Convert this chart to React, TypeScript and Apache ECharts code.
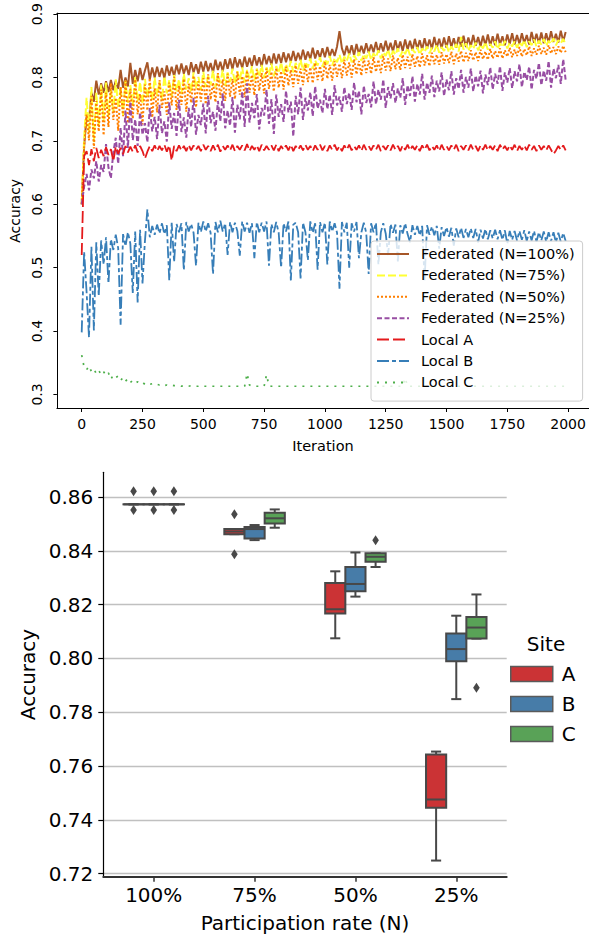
import React, { useEffect, useRef } from 'react';
import * as echarts from 'echarts';

const FONT = 'DejaVu Sans';

// ---------- Top chart: accuracy per iteration ----------
const ITER_STEP = 10;
const X_TICKS = [0, 250, 500, 750, 1000, 1250, 1500, 1750, 2000];
const Y_TICKS_TOP = [0.3, 0.4, 0.5, 0.6, 0.7, 0.8, 0.9];
const SERIES_NAMES = [
  'Federated (N=100%)',
  'Federated (N=75%)',
  'Federated (N=50%)',
  'Federated (N=25%)',
  'Local A',
  'Local B',
  'Local C',
];

const FED100 = [
  0.600, 0.692, 0.738, 0.731, 0.776, 0.762, 0.795, 0.773, 0.791, 0.776,
  0.794, 0.777, 0.796, 0.780, 0.795, 0.782, 0.812, 0.784, 0.800, 0.786,
  0.823, 0.790, 0.812, 0.794, 0.815, 0.796, 0.811, 0.824, 0.797, 0.816,
  0.800, 0.817, 0.801, 0.815, 0.799, 0.819, 0.803, 0.817, 0.802, 0.820,
  0.805, 0.822, 0.806, 0.819, 0.804, 0.824, 0.808, 0.821, 0.806, 0.825,
  0.809, 0.826, 0.810, 0.823, 0.808, 0.828, 0.812, 0.825, 0.810, 0.829,
  0.814, 0.830, 0.813, 0.832, 0.816, 0.829, 0.815, 0.833, 0.817, 0.831,
  0.818, 0.835, 0.819, 0.832, 0.817, 0.837, 0.821, 0.834, 0.820, 0.838,
  0.822, 0.837, 0.823, 0.840, 0.824, 0.838, 0.825, 0.842, 0.826, 0.839,
  0.827, 0.844, 0.828, 0.841, 0.829, 0.847, 0.830, 0.843, 0.831, 0.846,
  0.832, 0.848, 0.833, 0.845, 0.834, 0.849, 0.873, 0.846, 0.835, 0.850,
  0.836, 0.851, 0.835, 0.853, 0.837, 0.850, 0.838, 0.854, 0.839, 0.852,
  0.840, 0.856, 0.839, 0.854, 0.841, 0.858, 0.842, 0.855, 0.841, 0.859,
  0.843, 0.857, 0.842, 0.860, 0.844, 0.858, 0.843, 0.861, 0.845, 0.859,
  0.844, 0.862, 0.846, 0.860, 0.845, 0.864, 0.847, 0.861, 0.846, 0.863,
  0.847, 0.865, 0.848, 0.862, 0.847, 0.864, 0.849, 0.866, 0.848, 0.863,
  0.849, 0.867, 0.850, 0.864, 0.849, 0.866, 0.851, 0.868, 0.850, 0.865,
  0.851, 0.869, 0.852, 0.865, 0.851, 0.868, 0.853, 0.870, 0.852, 0.867,
  0.853, 0.870, 0.854, 0.867, 0.852, 0.872, 0.855, 0.869, 0.854, 0.871,
  0.854, 0.870, 0.855, 0.873, 0.856, 0.869, 0.855, 0.874, 0.857, 0.872,
];

const FED75 = [
  0.600, 0.705, 0.768, 0.712, 0.785, 0.698, 0.776, 0.722, 0.789, 0.731,
  0.792, 0.738, 0.781, 0.745, 0.797, 0.752, 0.786, 0.741, 0.795, 0.760,
  0.788, 0.755, 0.801, 0.762, 0.793, 0.758, 0.798, 0.768, 0.791, 0.763,
  0.800, 0.771, 0.794, 0.765, 0.802, 0.775, 0.796, 0.770, 0.804, 0.778,
  0.797, 0.774, 0.806, 0.781, 0.799, 0.777, 0.808, 0.783, 0.801, 0.780,
  0.809, 0.785, 0.803, 0.788, 0.811, 0.784, 0.806, 0.791, 0.812, 0.787,
  0.808, 0.793, 0.814, 0.790, 0.810, 0.796, 0.816, 0.792, 0.812, 0.798,
  0.818, 0.795, 0.814, 0.801, 0.820, 0.799, 0.816, 0.804, 0.822, 0.802,
  0.818, 0.807, 0.824, 0.805, 0.821, 0.810, 0.826, 0.808, 0.823, 0.813,
  0.828, 0.811, 0.825, 0.816, 0.830, 0.814, 0.827, 0.819, 0.832, 0.817,
  0.829, 0.821, 0.834, 0.819, 0.831, 0.824, 0.836, 0.822, 0.833, 0.826,
  0.838, 0.824, 0.835, 0.828, 0.840, 0.826, 0.837, 0.830, 0.841, 0.828,
  0.838, 0.832, 0.843, 0.830, 0.840, 0.834, 0.844, 0.831, 0.842, 0.836,
  0.846, 0.833, 0.843, 0.837, 0.847, 0.835, 0.845, 0.839, 0.848, 0.836,
  0.846, 0.840, 0.849, 0.838, 0.847, 0.841, 0.852, 0.839, 0.848, 0.842,
  0.851, 0.840, 0.849, 0.843, 0.853, 0.841, 0.864, 0.844, 0.854, 0.842,
  0.851, 0.845, 0.855, 0.843, 0.852, 0.846, 0.856, 0.844, 0.853, 0.847,
  0.857, 0.845, 0.854, 0.848, 0.858, 0.846, 0.855, 0.849, 0.857, 0.847,
  0.856, 0.850, 0.859, 0.848, 0.857, 0.851, 0.860, 0.849, 0.858, 0.852,
  0.861, 0.850, 0.858, 0.853, 0.862, 0.851, 0.859, 0.854, 0.861, 0.852,
];

const FED50 = [
  0.600, 0.690, 0.742, 0.701, 0.771, 0.688, 0.763, 0.715, 0.781, 0.709,
  0.776, 0.722, 0.791, 0.733, 0.768, 0.716, 0.785, 0.739, 0.795, 0.728,
  0.782, 0.735, 0.797, 0.742, 0.774, 0.726, 0.789, 0.748, 0.799, 0.737,
  0.783, 0.745, 0.796, 0.752, 0.778, 0.741, 0.792, 0.756, 0.801, 0.749,
  0.787, 0.757, 0.798, 0.746, 0.790, 0.760, 0.803, 0.753, 0.794, 0.762,
  0.799, 0.758, 0.805, 0.765, 0.792, 0.761, 0.807, 0.768, 0.797, 0.763,
  0.806, 0.770, 0.798, 0.766, 0.809, 0.773, 0.802, 0.769, 0.811, 0.776,
  0.804, 0.772, 0.812, 0.779, 0.807, 0.775, 0.814, 0.782, 0.809, 0.778,
  0.815, 0.784, 0.810, 0.781, 0.817, 0.787, 0.812, 0.785, 0.819, 0.790,
  0.814, 0.788, 0.821, 0.793, 0.816, 0.791, 0.823, 0.796, 0.818, 0.794,
  0.825, 0.798, 0.820, 0.795, 0.826, 0.801, 0.822, 0.799, 0.828, 0.803,
  0.824, 0.800, 0.829, 0.805, 0.826, 0.803, 0.831, 0.807, 0.827, 0.806,
  0.832, 0.809, 0.828, 0.807, 0.834, 0.811, 0.830, 0.810, 0.835, 0.813,
  0.831, 0.812, 0.836, 0.815, 0.833, 0.814, 0.837, 0.817, 0.834, 0.816,
  0.838, 0.819, 0.835, 0.818, 0.839, 0.821, 0.836, 0.820, 0.840, 0.822,
  0.837, 0.823, 0.841, 0.821, 0.838, 0.825, 0.842, 0.824, 0.839, 0.826,
  0.843, 0.827, 0.840, 0.826, 0.844, 0.829, 0.841, 0.828, 0.845, 0.830,
  0.842, 0.831, 0.846, 0.830, 0.843, 0.833, 0.847, 0.832, 0.844, 0.834,
  0.848, 0.833, 0.845, 0.835, 0.849, 0.834, 0.846, 0.836, 0.850, 0.837,
  0.847, 0.836, 0.851, 0.838, 0.848, 0.837, 0.849, 0.839, 0.850, 0.840,
];

const FED25 = [
  0.600, 0.628, 0.648, 0.622, 0.655, 0.641, 0.668, 0.636, 0.662, 0.651,
  0.695, 0.658, 0.641, 0.682, 0.705, 0.664, 0.721, 0.676, 0.748, 0.689,
  0.762, 0.701, 0.734, 0.692, 0.745, 0.710, 0.728, 0.698, 0.752, 0.715,
  0.738, 0.703, 0.757, 0.712, 0.731, 0.699, 0.761, 0.719, 0.744, 0.708,
  0.765, 0.714, 0.737, 0.705, 0.752, 0.722, 0.768, 0.710, 0.741, 0.725,
  0.759, 0.712, 0.771, 0.728, 0.746, 0.716, 0.763, 0.731, 0.775, 0.720,
  0.748, 0.724, 0.769, 0.713, 0.757, 0.734, 0.778, 0.722, 0.791, 0.729,
  0.760, 0.736, 0.774, 0.718, 0.752, 0.740, 0.781, 0.727, 0.766, 0.711,
  0.773, 0.738, 0.758, 0.730, 0.779, 0.745, 0.762, 0.707, 0.771, 0.742,
  0.784, 0.733, 0.768, 0.748, 0.777, 0.739, 0.786, 0.751, 0.765, 0.744,
  0.782, 0.750, 0.773, 0.741, 0.788, 0.756, 0.770, 0.746, 0.785, 0.758,
  0.776, 0.749, 0.792, 0.761, 0.779, 0.742, 0.787, 0.760, 0.774, 0.753,
  0.794, 0.758, 0.781, 0.765, 0.797, 0.752, 0.785, 0.767, 0.791, 0.760,
  0.783, 0.768, 0.799, 0.757, 0.788, 0.771, 0.802, 0.762, 0.790, 0.773,
  0.806, 0.765, 0.792, 0.776, 0.803, 0.769, 0.795, 0.778, 0.808, 0.771,
  0.797, 0.780, 0.810, 0.773, 0.799, 0.782, 0.812, 0.776, 0.801, 0.784,
  0.814, 0.778, 0.803, 0.786, 0.811, 0.775, 0.805, 0.788, 0.816, 0.781,
  0.806, 0.790, 0.818, 0.779, 0.808, 0.792, 0.815, 0.783, 0.810, 0.794,
  0.821, 0.785, 0.809, 0.796, 0.817, 0.781, 0.812, 0.798, 0.823, 0.788,
  0.811, 0.795, 0.826, 0.784, 0.814, 0.799, 0.820, 0.790, 0.829, 0.796,
];

const LOCAL_A = [
  0.520, 0.676, 0.684, 0.662, 0.687, 0.668, 0.689, 0.673, 0.686, 0.676,
  0.690, 0.678, 0.687, 0.668, 0.691, 0.680, 0.689, 0.679, 0.692, 0.682,
  0.691, 0.683, 0.693, 0.682, 0.692, 0.684, 0.672, 0.683, 0.692, 0.684,
  0.693, 0.684, 0.692, 0.685, 0.694, 0.683, 0.693, 0.669, 0.692, 0.684,
  0.693, 0.685, 0.692, 0.684, 0.694, 0.685, 0.693, 0.686, 0.692, 0.684,
  0.694, 0.686, 0.692, 0.684, 0.693, 0.685, 0.694, 0.683, 0.692, 0.686,
  0.693, 0.685, 0.694, 0.684, 0.692, 0.686, 0.693, 0.685, 0.695, 0.684,
  0.692, 0.686, 0.693, 0.684, 0.694, 0.685, 0.692, 0.686, 0.693, 0.685,
  0.694, 0.684, 0.692, 0.686, 0.693, 0.685, 0.694, 0.684, 0.692, 0.686,
  0.693, 0.685, 0.694, 0.686, 0.692, 0.684, 0.693, 0.686, 0.694, 0.685,
  0.692, 0.684, 0.693, 0.686, 0.694, 0.685, 0.692, 0.684, 0.693, 0.686,
  0.694, 0.685, 0.692, 0.686, 0.693, 0.684, 0.694, 0.686, 0.692, 0.685,
  0.693, 0.686, 0.694, 0.684, 0.692, 0.686, 0.693, 0.685, 0.694, 0.686,
  0.692, 0.684, 0.693, 0.686, 0.694, 0.685, 0.692, 0.686, 0.693, 0.684,
  0.693, 0.686, 0.694, 0.685, 0.692, 0.686, 0.693, 0.684, 0.694, 0.686,
  0.692, 0.685, 0.693, 0.686, 0.694, 0.684, 0.692, 0.686, 0.693, 0.685,
  0.694, 0.686, 0.692, 0.684, 0.693, 0.686, 0.694, 0.685, 0.692, 0.686,
  0.693, 0.684, 0.694, 0.686, 0.692, 0.685, 0.693, 0.686, 0.694, 0.684,
  0.692, 0.686, 0.693, 0.685, 0.694, 0.686, 0.692, 0.684, 0.693, 0.686,
  0.692, 0.685, 0.693, 0.686, 0.679, 0.685, 0.692, 0.686, 0.693, 0.685,
];

const LOCAL_B = [
  0.398, 0.525, 0.462, 0.390, 0.533, 0.401, 0.540, 0.455, 0.543, 0.505,
  0.548, 0.475, 0.545, 0.528, 0.552, 0.531, 0.410, 0.553, 0.534, 0.556,
  0.538, 0.460, 0.557, 0.445, 0.560, 0.475, 0.542, 0.592, 0.548, 0.566,
  0.552, 0.568, 0.554, 0.570, 0.553, 0.567, 0.480, 0.571, 0.509, 0.569,
  0.556, 0.570, 0.496, 0.572, 0.557, 0.569, 0.555, 0.503, 0.571, 0.556,
  0.573, 0.557, 0.570, 0.555, 0.490, 0.572, 0.556, 0.574, 0.557, 0.570,
  0.520, 0.572, 0.556, 0.571, 0.558, 0.519, 0.573, 0.557, 0.571, 0.555,
  0.570, 0.515, 0.572, 0.556, 0.571, 0.557, 0.573, 0.503, 0.569, 0.556,
  0.572, 0.555, 0.500, 0.570, 0.557, 0.573, 0.480, 0.568, 0.571, 0.556,
  0.483, 0.571, 0.556, 0.512, 0.573, 0.555, 0.570, 0.497, 0.572, 0.556,
  0.571, 0.505, 0.573, 0.557, 0.570, 0.555, 0.467, 0.572, 0.556, 0.571,
  0.500, 0.570, 0.557, 0.572, 0.515, 0.556, 0.571, 0.555, 0.490, 0.570,
  0.556, 0.571, 0.505, 0.556, 0.570, 0.554, 0.520, 0.569, 0.555, 0.568,
  0.510, 0.567, 0.554, 0.570, 0.553, 0.540, 0.567, 0.552, 0.566, 0.551,
  0.566, 0.480, 0.567, 0.552, 0.565, 0.551, 0.566, 0.530, 0.564, 0.550,
  0.564, 0.549, 0.563, 0.535, 0.562, 0.548, 0.563, 0.547, 0.561, 0.548,
  0.562, 0.547, 0.561, 0.540, 0.560, 0.546, 0.561, 0.545, 0.559, 0.546,
  0.560, 0.545, 0.559, 0.544, 0.559, 0.538, 0.558, 0.544, 0.558, 0.543,
  0.558, 0.544, 0.559, 0.542, 0.557, 0.543, 0.558, 0.541, 0.556, 0.543,
  0.557, 0.541, 0.556, 0.542, 0.556, 0.540, 0.555, 0.541, 0.555, 0.542,
];

const LOCAL_C = [
  0.362, 0.343, 0.339, 0.345, 0.336, 0.340, 0.333, 0.338, 0.331, 0.336,
  0.330, 0.334, 0.324, 0.331, 0.327, 0.329, 0.322, 0.327, 0.321, 0.325,
  0.319, 0.322, 0.318, 0.320, 0.317, 0.319, 0.316, 0.318, 0.316, 0.317,
  0.315, 0.316, 0.315, 0.316, 0.314, 0.315, 0.314, 0.315, 0.314, 0.314,
  0.314, 0.313, 0.314, 0.313, 0.313, 0.314, 0.313, 0.313, 0.313, 0.314,
  0.313, 0.313, 0.313, 0.313, 0.313, 0.313, 0.313, 0.313, 0.313, 0.313,
  0.313, 0.313, 0.313, 0.313, 0.313, 0.313, 0.313, 0.313, 0.333, 0.315,
  0.313, 0.313, 0.313, 0.313, 0.313, 0.313, 0.331, 0.314, 0.313, 0.313,
  0.313, 0.313, 0.313, 0.313, 0.313, 0.313, 0.313, 0.313, 0.313, 0.313,
  0.313, 0.313, 0.313, 0.313, 0.313, 0.313, 0.313, 0.313, 0.313, 0.313,
  0.313, 0.313, 0.313, 0.313, 0.313, 0.313, 0.313, 0.313, 0.313, 0.313,
  0.313, 0.313, 0.313, 0.313, 0.313, 0.313, 0.313, 0.313, 0.313, 0.313,
  0.313, 0.313, 0.313, 0.313, 0.313, 0.313, 0.313, 0.313, 0.313, 0.313,
  0.313, 0.313, 0.313, 0.326, 0.313, 0.313, 0.313, 0.313, 0.313, 0.313,
  0.313, 0.313, 0.313, 0.313, 0.313, 0.313, 0.313, 0.313, 0.313, 0.313,
  0.313, 0.313, 0.313, 0.313, 0.313, 0.313, 0.313, 0.313, 0.313, 0.313,
  0.313, 0.313, 0.313, 0.313, 0.313, 0.313, 0.313, 0.313, 0.313, 0.313,
  0.313, 0.313, 0.313, 0.313, 0.313, 0.313, 0.313, 0.313, 0.313, 0.313,
  0.313, 0.313, 0.313, 0.313, 0.313, 0.313, 0.313, 0.313, 0.313, 0.313,
  0.313, 0.313, 0.313, 0.313, 0.313, 0.313, 0.313, 0.313, 0.313, 0.313,
];

// ---------- Bottom chart: final accuracy boxplots ----------
const CATEGORIES = ['100%', '75%', '50%', '25%'];
const SITES = ['A', 'B', 'C'];
// [min whisker, Q1, median, Q3, max whisker] per participation rate
const BOX_A = [
  [0.8573, 0.8573, 0.8573, 0.8573, 0.8573],
  [0.8462, 0.8462, 0.8472, 0.8481, 0.8481],
  [0.8075, 0.8167, 0.8183, 0.8281, 0.8324],
  [0.7249, 0.7445, 0.7476, 0.7643, 0.7654],
];
const BOX_B = [
  [0.8573, 0.8573, 0.8573, 0.8573, 0.8573],
  [0.8440, 0.8446, 0.8481, 0.8489, 0.8496],
  [0.8230, 0.8250, 0.8277, 0.8340, 0.8394],
  [0.7849, 0.7990, 0.8035, 0.8093, 0.8159],
];
const BOX_C = [
  [0.8573, 0.8573, 0.8573, 0.8573, 0.8573],
  [0.8486, 0.8502, 0.8521, 0.8542, 0.8554],
  [0.8340, 0.8360, 0.8378, 0.8391, 0.8391],
  [0.8074, 0.8074, 0.8115, 0.8154, 0.8238],
];
// [category index, site index, value]
const OUTLIERS = [
  [0, 0, 0.8622], [0, 0, 0.8552],
  [0, 1, 0.8622], [0, 1, 0.8552],
  [0, 2, 0.8622], [0, 2, 0.8552],
  [1, 0, 0.8536], [1, 0, 0.8387],
  [2, 2, 0.8439],
  [3, 2, 0.7891],
];
const Y_TICKS_BOTTOM = [0.72, 0.74, 0.76, 0.78, 0.8, 0.82, 0.84, 0.86];

const LINE_COLORS = ['#a65628', '#ffff33', '#ff7f00', '#984ea3', '#e41a1c', '#377eb8', '#4daf4a'];
const LINE_TYPES: any[] = ['solid', [8, 3], [2, 2], [5, 2.5], [12, 4], [12, 3, 4, 3], [2, 6]];
const LINE_WIDTHS = [2, 2, 2, 2, 1.8, 1.8, 1.7];
const SITE_COLORS = ['#CB3335', '#477CA8', '#59A257'];
const EDGE = '#484848';

export default function App() {
  const ref = useRef<HTMLDivElement>(null);

  useEffect(() => {
    if (!ref.current) return;
    const chart = echarts.init(ref.current, null, { renderer: 'svg' });
    const lineData = [FED100, FED75, FED50, FED25, LOCAL_A, LOCAL_B, LOCAL_C];

    const lineSeries = lineData.map((vals, k) => ({
      name: SERIES_NAMES[k],
      type: 'line',
      xAxisIndex: 0,
      yAxisIndex: 0,
      data: vals.map((v, i) => [i * ITER_STEP, v]),
      symbol: 'none',
      showSymbol: false,
      silent: true,
      lineStyle: { color: LINE_COLORS[k], width: LINE_WIDTHS[k], type: LINE_TYPES[k] },
      itemStyle: { color: LINE_COLORS[k] },
    }));

    const boxSets = [BOX_A, BOX_B, BOX_C];
    const boxSeries = boxSets.map((boxes, s) => ({
      name: SITES[s],
      type: 'custom',
      xAxisIndex: 2,
      yAxisIndex: 1,
      z: 3,
      color: SITE_COLORS[s],
      itemStyle: { color: SITE_COLORS[s] },
      encode: { x: 0, y: [1, 2, 3, 4, 5] },
      data: boxes.map((b, i) => [i, ...b]),
      renderItem: (params: any, api: any) => {
        const cat = api.value(0);
        const band = api.size([1, 0])[0];
        const pMed = api.coord([cat, api.value(3)]);
        const cx = pMed[0] + (s - 1) * band * 0.2;
        const w = band * 0.2;
        const yLo = api.coord([cat, api.value(1)])[1];
        const yQ1 = api.coord([cat, api.value(2)])[1];
        const yQ3 = api.coord([cat, api.value(4)])[1];
        const yHi = api.coord([cat, api.value(5)])[1];
        const st = { stroke: EDGE, lineWidth: 2, fill: 'none' };
        const cap = w / 4;
        return {
          type: 'group',
          children: [
            { type: 'line', shape: { x1: cx, y1: yQ3, x2: cx, y2: yHi }, style: st },
            { type: 'line', shape: { x1: cx, y1: yQ1, x2: cx, y2: yLo }, style: st },
            { type: 'line', shape: { x1: cx - cap, y1: yHi, x2: cx + cap, y2: yHi }, style: st },
            { type: 'line', shape: { x1: cx - cap, y1: yLo, x2: cx + cap, y2: yLo }, style: st },
            {
              type: 'rect',
              shape: { x: cx - w / 2, y: yQ3, width: w, height: Math.max(yQ1 - yQ3, 0.01) },
              style: { fill: SITE_COLORS[s], stroke: EDGE, lineWidth: 2 },
            },
            { type: 'line', shape: { x1: cx - w / 2, y1: pMed[1], x2: cx + w / 2, y2: pMed[1] }, style: st },
          ],
        };
      },
    }));

    const outlierSeries = {
      name: 'outliers',
      type: 'custom',
      xAxisIndex: 2,
      yAxisIndex: 1,
      z: 4,
      encode: { x: 0, y: 2 },
      data: OUTLIERS,
      renderItem: (params: any, api: any) => {
        const cat = api.value(0);
        const site = api.value(1);
        const band = api.size([1, 0])[0];
        const p = api.coord([cat, api.value(2)]);
        const cx = p[0] + (site - 1) * band * 0.2;
        const cy = p[1];
        return {
          type: 'polygon',
          shape: { points: [[cx, cy - 5], [cx + 3.3, cy], [cx, cy + 5], [cx - 3.3, cy]] },
          style: { fill: EDGE },
        };
      },
    };

    const axisText = { fontFamily: FONT, color: '#000' };

    const option: any = {
      animation: false,
      textStyle: { fontFamily: FONT },
      grid: [
        { left: 54, top: 7.3, right: 0, height: 401.2 },
        { left: 103.3, top: 472.3, right: 82.3, height: 404.4 },
      ],
      xAxis: [
        {
          type: 'value', gridIndex: 0, min: -102, max: 2086,
          axisLine: { show: true, onZero: false, lineStyle: { color: '#000', width: 1 } },
          axisTick: { show: true, customValues: X_TICKS, length: 3.5, lineStyle: { color: '#000', width: 1 } },
          axisLabel: { customValues: X_TICKS, fontSize: 14, margin: 8, formatter: (v: number) => String(v), ...axisText },
          splitLine: { show: false },
          name: 'Iteration', nameLocation: 'middle', nameGap: 30,
          nameTextStyle: { fontSize: 14.5, ...axisText },
        },
        {
          type: 'value', gridIndex: 0, position: 'top', min: -102, max: 2086,
          axisLine: { show: true, onZero: false, lineStyle: { color: '#000', width: 1 } },
          axisTick: { show: false }, axisLabel: { show: false }, splitLine: { show: false },
        },
        {
          type: 'category', gridIndex: 1, data: CATEGORIES, boundaryGap: true,
          axisLine: { show: true, onZero: false, lineStyle: { color: '#333', width: 2 } },
          axisTick: { show: true, alignWithLabel: true, length: 5, lineStyle: { color: '#333', width: 1.5 } },
          axisLabel: { fontSize: 20, margin: 8, ...axisText },
          splitLine: { show: false },
          name: 'Participation rate (N)', nameLocation: 'middle', nameGap: 36,
          nameTextStyle: { fontSize: 20, ...axisText },
        },
      ],
      yAxis: [
        {
          type: 'value', gridIndex: 0, min: 0.2779, max: 0.9016,
          axisLine: { show: true, onZero: false, lineStyle: { color: '#000', width: 1 } },
          axisTick: { show: true, customValues: Y_TICKS_TOP, length: 3.5, lineStyle: { color: '#000', width: 1 } },
          axisLabel: {
            customValues: Y_TICKS_TOP, rotate: 90, fontSize: 14, margin: 13,
            formatter: (v: number) => v.toFixed(1), ...axisText,
          },
          splitLine: { show: false },
          name: 'Accuracy', nameLocation: 'middle', nameRotate: 90, nameGap: 30,
          nameTextStyle: { fontSize: 14, ...axisText },
        },
        {
          type: 'value', gridIndex: 1, min: 0.7189, max: 0.8692,
          axisLine: { show: true, onZero: false, lineStyle: { color: '#000', width: 1.2 } },
          axisTick: { show: true, customValues: Y_TICKS_BOTTOM, length: 5, lineStyle: { color: '#000', width: 1.2 } },
          axisLabel: {
            customValues: Y_TICKS_BOTTOM, fontSize: 20, margin: 10,
            formatter: (v: number) => v.toFixed(2), ...axisText,
          },
          splitLine: { show: true, lineStyle: { color: '#c0c0c0', width: 1.3 } },
          name: 'Accuracy', nameLocation: 'middle', nameRotate: 90, nameGap: 62,
          nameTextStyle: { fontSize: 20, ...axisText },
        },
      ],
      legend: [
        {
          data: SERIES_NAMES, orient: 'vertical', left: 371, top: 241,
          padding: [5, 8, 10.7, 5], itemWidth: 32, itemHeight: 16, itemGap: 5.4,
          itemStyle: { opacity: 0 },
          lineStyle: { width: 2 },
          backgroundColor: 'rgba(255,255,255,0.8)', borderColor: '#cccccc', borderWidth: 1, borderRadius: 3,
          textStyle: { fontSize: 14.5, fontFamily: FONT, color: '#000', lineHeight: 16, padding: [0, 0, 0, 7] },
          selectedMode: false,
        },
        {
          data: SITES, orient: 'vertical', left: 510, top: 664, padding: 0,
          icon: 'rect', itemWidth: 42, itemHeight: 15, itemGap: 10,
          itemStyle: { borderColor: '#5a5a5a', borderWidth: 1.5 },
          textStyle: { fontSize: 20, fontFamily: FONT, color: '#000', lineHeight: 20, padding: [0, 0, 0, 4] },
          selectedMode: false,
        },
      ],
      graphic: [
        {
          type: 'text', x: 546, y: 644, z: 10,
          style: { text: 'Site', fontSize: 20, fontFamily: FONT, fill: '#000', align: 'center', verticalAlign: 'middle' },
        },
      ],
      series: [...lineSeries, ...boxSeries, outlierSeries],
    };

    chart.setOption(option);
    return () => chart.dispose();
  }, []);

  return (
    <div
      ref={ref}
      style={{ position: 'absolute', left: 0, top: 0, width: 589, height: 935, background: '#fff' }}
    />
  );
}
